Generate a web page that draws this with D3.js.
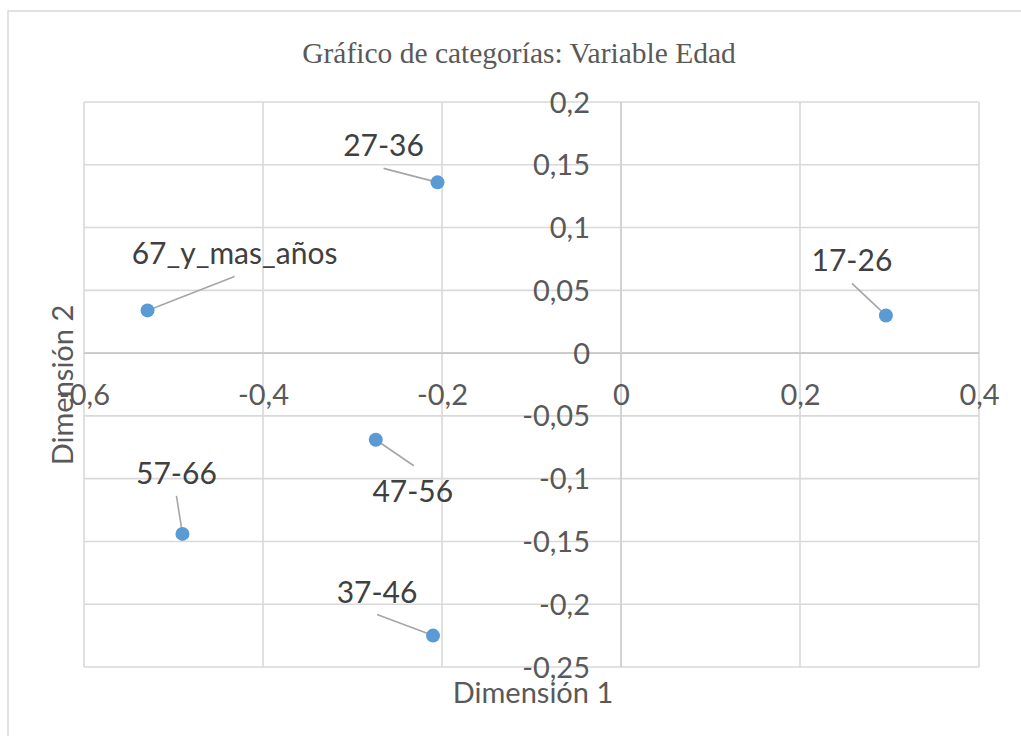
<!DOCTYPE html>
<html>
<head>
<meta charset="utf-8">
<script src="https://cdn.jsdelivr.net/npm/d3@7"></script>
<style>
  html, body { margin: 0; padding: 0; background: #fff; }
  svg { display: block; }
</style>
</head>
<body>
<svg id="chart" width="1021" height="736"></svg>
<script>
// Category coordinates from the correspondence analysis (Edad)
const categories = ["27-36", "67_y_mas_años", "17-26", "57-66", "47-56", "37-46"];
const dim1 = [-0.205, -0.529, 0.296, -0.490, -0.274, -0.210];
const dim2 = [0.136, 0.034, 0.030, -0.144, -0.069, -0.225];

const xTicks = [-0.6, -0.4, -0.2, 0, 0.2, 0.4];
const yTicks = [0.2, 0.15, 0.1, 0.05, 0, -0.05, -0.1, -0.15, -0.2, -0.25];

// Label placement relative to each point (pixels): centre x, baseline y
const labelOffsets = [
  [-54, -26], [87, -46], [-34, -44], [-6, -50], [37, 62], [-56, -33]
];

const svg = d3.select("#chart");
const margin = { left: 84, right: 979, top: 102, bottom: 667 };

const x = d3.scaleLinear().domain([-0.6, 0.4]).range([margin.left, margin.right]);
const y = d3.scaleLinear().domain([-0.25, 0.2]).range([margin.bottom, margin.top]);

const fmt = v => String(+v.toFixed(2)).replace(".", ",");

// Chart frame
svg.append("rect")
  .attr("x", 8).attr("y", 11)
  .attr("width", 1100).attr("height", 800)
  .attr("fill", "#fff")
  .attr("stroke", "#d9d9d9").attr("stroke-width", 1.5);

// Title
svg.append("text")
  .attr("x", 519).attr("y", 63)
  .attr("text-anchor", "middle")
  .attr("font-family", "'Liberation Serif', 'Times New Roman', serif")
  .attr("font-size", 29.5)
  .attr("fill", "#595959")
  .text("Gráfico de categorías: Variable Edad");

// Gridlines
const grid = svg.append("g").attr("stroke", "#d9d9d9").attr("stroke-width", 1.6);
grid.selectAll("line.gx").data(xTicks).join("line")
  .attr("x1", d => x(d)).attr("x2", d => x(d))
  .attr("y1", margin.top).attr("y2", margin.bottom);
grid.selectAll("line.gy").data(yTicks).join("line")
  .attr("y1", d => y(d)).attr("y2", d => y(d))
  .attr("x1", margin.left).attr("x2", margin.right);

// Zero axes
svg.append("line")
  .attr("x1", margin.left).attr("x2", margin.right)
  .attr("y1", y(0)).attr("y2", y(0))
  .attr("stroke", "#c8c8c8").attr("stroke-width", 1.6);
svg.append("line")
  .attr("x1", x(0)).attr("x2", x(0))
  .attr("y1", margin.top).attr("y2", margin.bottom)
  .attr("stroke", "#d0d0d0").attr("stroke-width", 1.6);

const tickFont = "Lato, 'Open Sans', sans-serif";

// X axis tick labels (below the horizontal zero axis)
const xAxis = d3.axisBottom(x).tickValues(xTicks).tickFormat(fmt).tickSize(0).tickPadding(0);
const gx = svg.append("g").attr("transform", `translate(0,${y(0)})`).call(xAxis);
gx.select(".domain").remove();
gx.selectAll("text")
  .attr("y", 52).attr("dy", 0)
  .attr("font-family", tickFont).attr("font-size", 29)
  .attr("fill", "#595959");

// Y axis tick labels (left of the vertical zero axis)
const yAxis = d3.axisLeft(y).tickValues(yTicks).tickFormat(fmt).tickSize(0).tickPadding(0);
const gy = svg.append("g").attr("transform", `translate(${x(0) - 31},0)`).call(yAxis);
gy.select(".domain").remove();
gy.selectAll("text")
  .attr("x", 0).attr("dy", 10)
  .attr("font-family", tickFont).attr("font-size", 29)
  .attr("fill", "#595959");

// Axis titles
svg.append("text")
  .attr("x", 533).attr("y", 703)
  .attr("text-anchor", "middle")
  .attr("font-family", tickFont).attr("font-size", 29)
  .attr("fill", "#595959")
  .text("Dimensión 1");
svg.append("text")
  .attr("transform", `translate(73,385) rotate(-90)`)
  .attr("text-anchor", "middle")
  .attr("font-family", tickFont).attr("font-size", 29)
  .attr("fill", "#595959")
  .text("Dimensión 2");

// Points with leader lines and labels
const points = categories.map((c, i) => ({
  name: c, px: x(dim1[i]), py: y(dim2[i]),
  lx: x(dim1[i]) + labelOffsets[i][0], ly: y(dim2[i]) + labelOffsets[i][1]
}));

svg.append("g").selectAll("line").data(points).join("line")
  .attr("x1", d => d.px).attr("y1", d => d.py)
  .attr("x2", d => d.lx + (d.ly > d.py ? 1 : 0))
  .attr("y2", d => d.ly > d.py ? d.ly - 36 : d.ly + 12)
  .attr("stroke", "#a6a6a6").attr("stroke-width", 1.6);

svg.append("g").selectAll("circle").data(points).join("circle")
  .attr("cx", d => d.px).attr("cy", d => d.py).attr("r", 7)
  .attr("fill", "#5b9bd5");

svg.append("g").selectAll("text").data(points).join("text")
  .attr("x", d => d.lx).attr("y", d => d.ly)
  .attr("text-anchor", "middle")
  .attr("font-family", tickFont).attr("font-size", 30)
  .attr("fill", "#404040")
  .text(d => d.name);
</script>
</body>
</html>
